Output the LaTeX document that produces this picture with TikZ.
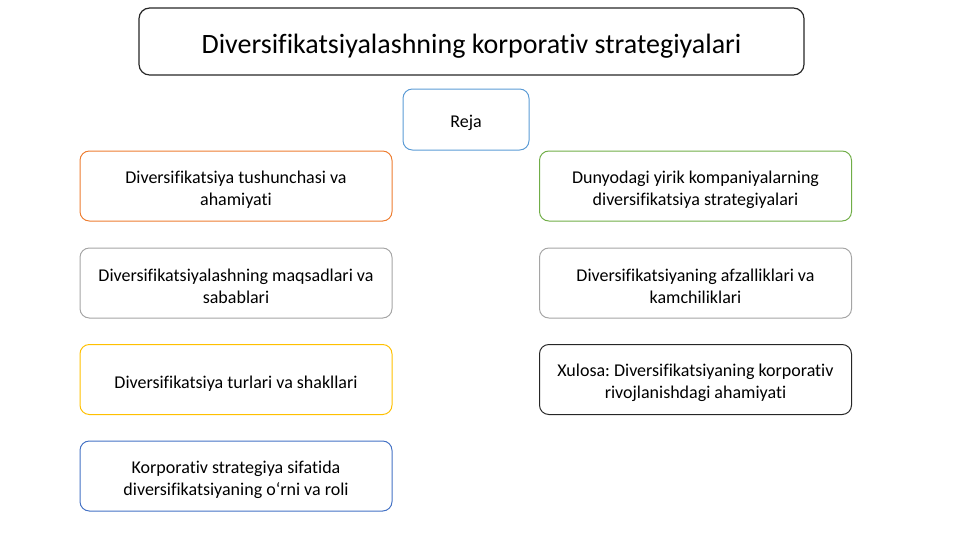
\documentclass[tikz,border=0pt]{standalone}
\usepackage{fontspec}
\setmainfont[Ligatures=NoCommon]{Carlito}
\frenchspacing
\definecolor{orangeline}{RGB}{237,125,49}
\definecolor{grayline}{RGB}{165,165,165}
\definecolor{goldline}{RGB}{255,192,0}
\definecolor{blueline}{RGB}{68,114,196}
\definecolor{greenline}{RGB}{112,173,71}
\definecolor{rejaline}{RGB}{91,155,213}
\newcommand{\toppad}{\rule{0pt}{15pt}}
\tikzset{
  topicbox/.style={draw, rounded corners=7pt, line width=0.75pt, minimum width=234pt, minimum height=52.5pt, align=center, inner sep=0pt, font=\fontsize{13.5}{16.5}\selectfont},
}
\begin{document}
\begin{tikzpicture}[x=0.75pt,y=0.75pt,yscale=-1,xscale=1]
\useasboundingbox (0,0) rectangle (961,540);

% Title
\node (title) [draw=black!85, rounded corners=8pt, line width=0.9pt, minimum width=498.75pt, minimum height=50.25pt, inner sep=0pt, font=\fontsize{21}{25}\selectfont] at (471.5,41.5) {\rule{0pt}{21pt}Diversifikatsiyalashning korporativ strategiyalari};

% Plan header
\node (reja) [draw=rejaline, rounded corners=7pt, line width=0.75pt, minimum width=94.5pt, minimum height=45.75pt, inner sep=0pt, font=\fontsize{13.5}{16.5}\selectfont] at (466,119.5) {\rule{0pt}{14pt}Reja};

% Left column
\node (tushuncha) [topicbox, draw=orangeline] at (236,186) {\toppad Diversifikatsiya tushunchasi va\\ahamiyati};
\node (maqsad) [topicbox, draw=grayline] at (236,283) {\toppad Diversifikatsiyalashning maqsadlari va\\sabablari};
\node (turlar) [topicbox, draw=goldline] at (236,379.5) {\toppad Diversifikatsiya turlari va shakllari};
\node (rol) [topicbox, draw=blueline] at (236,476) {\toppad Korporativ strategiya sifatida\\diversifikatsiyaning o‘rni va roli};

% Right column
\node (kompaniya) [topicbox, draw=greenline] at (695.5,186) {\toppad Dunyodagi yirik kompaniyalarning\\diversifikatsiya strategiyalari};
\node (afzallik) [topicbox, draw=grayline] at (695.5,283) {\toppad Diversifikatsiyaning afzalliklari va\\kamchiliklari};
\node (xulosa) [topicbox, draw=black!85] at (695.5,379.5) {\toppad Xulosa: Diversifikatsiyaning korporativ\\rivojlanishdagi ahamiyati};

\end{tikzpicture}
\end{document}
